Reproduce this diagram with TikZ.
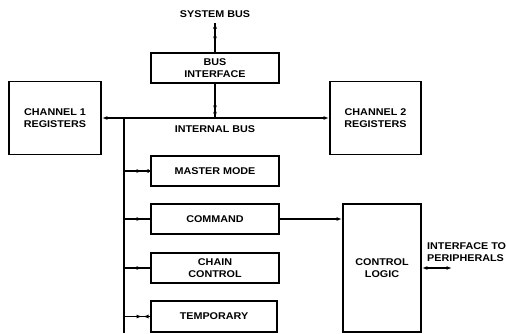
\documentclass[tikz,border=0pt]{standalone}
\usepackage{fontspec}
\setmainfont[FakeStretch=1.1]{Liberation Sans}
\usetikzlibrary{arrows.meta}
\tikzset{
  blk/.style={draw, line width=1.9pt, rectangle, inner sep=0pt, align=center,
    font=\fontsize{9.8}{11.5}\selectfont\bfseries},
  lbl/.style={inner sep=0pt, font=\fontsize{9.8}{12}\selectfont\bfseries},
  wire/.style={line width=1.2pt},
  tip/.tip={Latex[length=5.5pt,width=4pt]},
  headgap/.style={line width=1.2pt, -tip, shorten >=#1},
}
\begin{document}
\begin{tikzpicture}[x=1pt,y=-1pt]
\useasboundingbox (0,0) rectangle (506,333);
% blocks
\node[blk, minimum width=128pt, minimum height=30pt] (busif) at (215,68) {BUS\\INTERFACE};
\node[blk, minimum width=92pt, minimum height=73pt] (ch1) at (55,118) {CHANNEL 1\\REGISTERS};
\node[blk, minimum width=91pt, minimum height=73pt] (ch2) at (375.5,118) {CHANNEL 2\\REGISTERS};
\node[blk, minimum width=128pt, minimum height=30pt] (master) at (215,171) {MASTER MODE};
\node[blk, minimum width=128pt, minimum height=30pt] (command) at (215,219) {COMMAND};
\node[blk, minimum width=128pt, minimum height=30pt] (chain) at (215,268) {CHAIN\\CONTROL};
\node[blk, minimum width=126pt, minimum height=31pt] (temp) at (214,316.5) {TEMPORARY};
\node[blk, minimum width=78pt, minimum height=128pt] (ctrl) at (382,268) {CONTROL\\LOGIC};
% labels
\node[lbl] (sysbus) at (215,14) {SYSTEM BUS};
\node[lbl] (intbus) at (215,129) {INTERNAL BUS};
\node[lbl, anchor=west, align=left] (periphtxt) at (427,252.5) {INTERFACE TO\\PERIPHERALS};
% bus coordinates
\coordinate (vb) at (124,118);
\coordinate (vbend) at (124,333);
\coordinate (bj) at (215,118);
\coordinate (sbtop) at (215,23);
\coordinate (periph) at (452,268);
% system bus
\draw[wire] (sbtop) -- (busif.north);
\draw[headgap=0pt] (busif.north) -- (sbtop);
\draw[headgap=10pt] (sbtop) -- (busif.north);
\draw[wire] (busif.south) -- (bj);
\draw[headgap=24pt] (bj) -- (busif.south);
\draw[headgap=7pt] (busif.south) -- (bj);
% internal bus
\draw[wire, tip-tip] (ch1.east) -- (ch2.west);
\draw[wire, line width=1.5pt] (vb) -- (vbend);
% branches
\draw[wire] (vb|-master.west) -- (master.west);
\draw[headgap=19pt] (master.west) -- (vb|-master.west);
\draw[headgap=8pt] (vb|-master.west) -- (master.west);
\draw[wire] (vb|-command.west) -- (command.west);
\draw[headgap=8pt] (vb|-command.west) -- (command.west);
\draw[wire] (vb|-chain.west) -- (chain.west);
\draw[headgap=8pt] (vb|-chain.west) -- (chain.west);
\draw[wire] (vb|-temp.west) -- (temp.west);
\draw[headgap=19pt] (temp.west) -- (vb|-temp.west);
\draw[headgap=8pt] (vb|-temp.west) -- (temp.west);
% command to control logic
\draw[wire, -tip] (command.east) -- (command.east-|ctrl.west);
% peripherals
\draw[wire, tip-tip] (ctrl.east|-periph) -- (periph);
\end{tikzpicture}
\end{document}
